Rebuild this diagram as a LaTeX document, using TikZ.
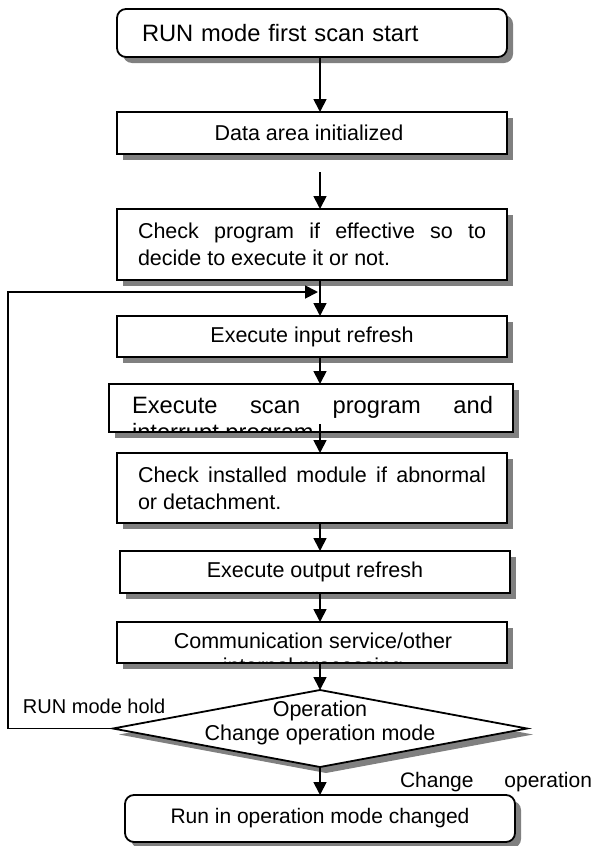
\documentclass[tikz,border=0pt]{standalone}
\usepackage{fontspec}
\setmainfont{Liberation Sans}
\usetikzlibrary{arrows.meta,shapes.geometric,shadows}
\definecolor{shadowgray}{RGB}{128,128,128}
\begin{document}
\begin{tikzpicture}[x=1pt,y=-1pt,
  every node/.style={outer sep=0pt},
  boxbase/.style={draw=black, line width=1.8pt, fill=white, inner sep=0pt,
    drop shadow={shadow xshift=6pt,shadow yshift=-6pt,opacity=1,fill=shadowgray}},
  procbox/.style={boxbase, rectangle, minimum width=390pt},
  termbox/.style={boxbase, rectangle, rounded corners=9pt, minimum width=390pt},
  decbox/.style={boxbase, diamond, minimum width=414pt, minimum height=77pt},
  arr/.style={line width=1.8pt, -{Triangle[width=13pt,length=13pt]}},
  txt/.style={font=\fontsize{21.5}{27}\selectfont},
  bigtxt/.style={font=\fontsize{23.7}{27}\selectfont},
  plain/.style={inner sep=0pt}
]
\useasboundingbox (0,0) rectangle (596,846);

% boxes
\node[termbox, minimum height=48pt, bigtxt, text width=340pt, align=left] (b1) at (312,33) {RUN mode first scan start};
\node[procbox, minimum height=42pt, txt] (b2) at (312,133) {\hspace*{-6pt}Data area initialized};
\node[procbox, minimum height=71pt, txt] (b3) at (312,244.5)
  {\parbox{348pt}{\makebox[348pt][s]{Check program if effective so to}\\decide to execute it or not.}};
\node[procbox, minimum height=41pt, txt] (b4) at (312,336.5) {Execute input refresh};
\node[procbox, minimum width=404pt, minimum height=48pt] (b5) at (311,408) {};
\node[procbox, minimum height=70pt, txt] (b6) at (312,488)
  {\parbox{348pt}{\makebox[348pt][s]{Check installed module if abnormal}\\or detachment.}};
\node[procbox, minimum height=42pt, txt] (b7) at (315,572) {Execute output refresh};
\node[procbox, minimum height=41pt] (b8) at (312,642.5) {};
\node[decbox] (dia) at (320,728.5) {};
\node[termbox, minimum height=47pt, font=\fontsize{21}{25}\selectfont] (b9) at (320,818.5) {Run in operation mode changed};

% clipped texts
\begin{scope}
  \clip ([shift={(1,-1)}]b5.south west) rectangle ([shift={(-1,1)}]b5.north east);
  \node[plain, anchor=base west, bigtxt] (t5) at (132,413)
    {\parbox[t]{361pt}{\makebox[361pt][s]{Execute scan program and}\\interrupt program}};
\end{scope}
\begin{scope}
  \clip ([shift={(1,-1)}]b8.south west) rectangle ([shift={(-1,1)}]b8.north east);
  \node[plain, anchor=base, txt] (t8) at (313,648)
    {\parbox[t]{320pt}{\centering Communication service/other\\[-2pt]internal processing}};
\end{scope}

% decision text and labels
\node[plain, anchor=base, txt] (dtxt) at (320,716)
  {\parbox[t]{260pt}{\centering Operation\\[-3pt]Change operation mode}};
\node[plain, anchor=base west, font=\fontsize{20}{24}\selectfont] (hold) at (23,713) {RUN mode hold};
\node[plain, anchor=base west, font=\fontsize{21}{25}\selectfont] (chg) at (400,787) {\makebox[192pt][s]{Change operation}};

% connectors
\coordinate (spine) at (320,0);
\coordinate (c23) at (320,172);
\coordinate (c56) at (320,424);
\coordinate (lft) at (8,292);
\coordinate (fb) at (318,292);

\draw[arr] (b1.south -| spine) -- (b2.north -| spine);
\draw[arr] (c23) -- (b3.north -| spine);
\draw[arr] (b3.south -| spine) -- (b4.north -| spine);
\draw[arr] (b4.south -| spine) -- (b5.north -| spine);
\draw[arr] (c56) -- (b6.north -| spine);
\draw[arr] (b6.south -| spine) -- (b7.north -| spine);
\draw[arr] (b7.south -| spine) -- (b8.north -| spine);
\draw[arr] (b8.south -| spine) -- (dia.north);
\draw[arr] (dia.south) -- (b9.north);
\draw[arr] (dia.west) -- (dia.west -| lft) |- (fb);
\end{tikzpicture}
\end{document}
